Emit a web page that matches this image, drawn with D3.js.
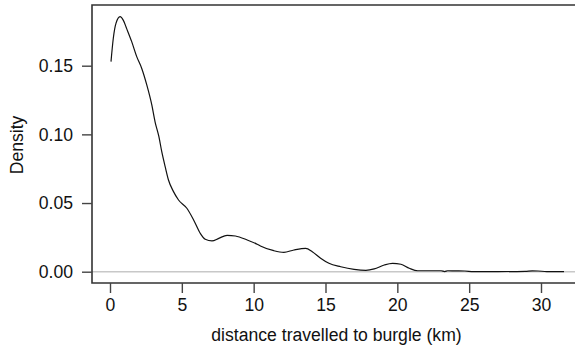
<!DOCTYPE html>
<html>
<head>
<meta charset="utf-8">
<script src="https://cdn.jsdelivr.net/npm/d3@7"></script>
<style>
  html, body { margin: 0; padding: 0; background: #fff; }
  svg { display: block; }
  text { font-family: "Liberation Sans", Arial, Helvetica, sans-serif; fill: #111; }
</style>
</head>
<body>
<svg id="chart" width="575" height="349"></svg>
<script>
// Kernel density estimate of distances travelled to burgle (km)
const distanceKm = [0.07, 0.23, 0.42, 0.70, 0.93, 1.16, 1.51, 1.86, 2.21, 2.56, 2.91, 3.14, 3.40, 3.61, 3.84,
  4.07, 4.42, 4.77, 5.35, 5.82, 6.28, 6.63, 7.10, 7.57, 8.15, 8.73, 9.55, 10.24, 10.47, 11.40, 12.10, 12.80,
  13.62, 14.08, 14.66, 15.24, 16.06, 16.99, 17.81, 18.39, 19.09, 19.67, 20.25, 20.83, 21.42, 22.3, 23.05,
  23.3, 23.5, 24.0, 24.7, 25.3, 27.0, 28.9, 29.4, 29.8, 30.4, 31.6];
const densityValues = [0.153, 0.170, 0.181, 0.1857, 0.183, 0.177, 0.1675, 0.1566, 0.148, 0.136, 0.1214, 0.109,
  0.0985, 0.0870, 0.0765, 0.0668, 0.0583, 0.0522, 0.0462, 0.0377, 0.028, 0.0236, 0.0224, 0.0243, 0.0265, 0.026,
  0.0231, 0.020, 0.0187, 0.0153, 0.0141, 0.0158, 0.0170, 0.0146, 0.0098, 0.0061, 0.0036, 0.0017, 0.001, 0.002,
  0.0049, 0.0061, 0.0054, 0.0025, 0.0007, 0.0007, 0.0007, 0.0001, 0.0007, 0.0006, 0.0005, 0.0001, 0.0001,
  0.0003, 0.0006, 0.0005, 0.0001, 0.0001];
const xTicks = [0, 5, 10, 15, 20, 25, 30];
const yTicks = [0, 0.05, 0.10, 0.15];
const xTitle = "distance travelled to burgle (km)";
const yTitle = "Density";

const svg = d3.select("#chart");

const x = d3.scaleLinear().domain([0, 30]).range([110, 541]);
const y = d3.scaleLinear().domain([0, 0.15]).range([271.7, 65.7]);

const box = { left: 92, top: 5, right: 580, bottom: 283 };
const fontSize = 17.6;

// zero reference line
svg.append("line")
  .attr("x1", box.left).attr("x2", box.right)
  .attr("y1", y(0)).attr("y2", y(0))
  .attr("stroke", "#c8c8c8").attr("stroke-width", 1.6);

// density curve
const points = distanceKm.map((d, i) => [d, densityValues[i]]);
svg.append("path")
  .datum(points)
  .attr("fill", "none")
  .attr("stroke", "#111")
  .attr("stroke-width", 1.2)
  .attr("stroke-linejoin", "round")
  .attr("d", d3.line().x(d => x(d[0])).y(d => y(d[1])).curve(d3.curveMonotoneX));

// plot frame (open on the right)
svg.append("path")
  .attr("d", `M${box.right},${box.top}H${box.left}V${box.bottom}H${box.right}`)
  .attr("fill", "none").attr("stroke", "#333").attr("stroke-width", 1.6);

// axes
const xAxis = d3.axisBottom(x).tickValues(xTicks).tickSize(10).tickPadding(6).tickFormat(d3.format("d"));
const gx = svg.append("g").attr("transform", `translate(0,${box.bottom})`).call(xAxis);
gx.select(".domain").remove();
gx.selectAll(".tick line").attr("stroke", "#444").attr("stroke-width", 1.4);
gx.selectAll(".tick text").attr("font-size", fontSize).attr("fill", "#111")
  .attr("font-family", "'Liberation Sans', Arial, sans-serif");

const yAxis = d3.axisLeft(y).tickValues(yTicks).tickSize(10).tickPadding(9).tickFormat(d3.format(".2f"));
const gy = svg.append("g").attr("transform", `translate(${box.left},0)`).call(yAxis);
gy.select(".domain").remove();
gy.selectAll(".tick line").attr("stroke", "#444").attr("stroke-width", 1.4);
gy.selectAll(".tick text").attr("font-size", fontSize).attr("fill", "#111")
  .attr("font-family", "'Liberation Sans', Arial, sans-serif");

// axis titles
svg.append("text")
  .attr("x", 336.5).attr("y", 340.5)
  .attr("text-anchor", "middle")
  .attr("font-size", fontSize)
  .text(xTitle);

svg.append("text")
  .attr("transform", "translate(23,145) rotate(-90)")
  .attr("text-anchor", "middle")
  .attr("font-size", fontSize)
  .text(yTitle);
</script>
</body>
</html>
